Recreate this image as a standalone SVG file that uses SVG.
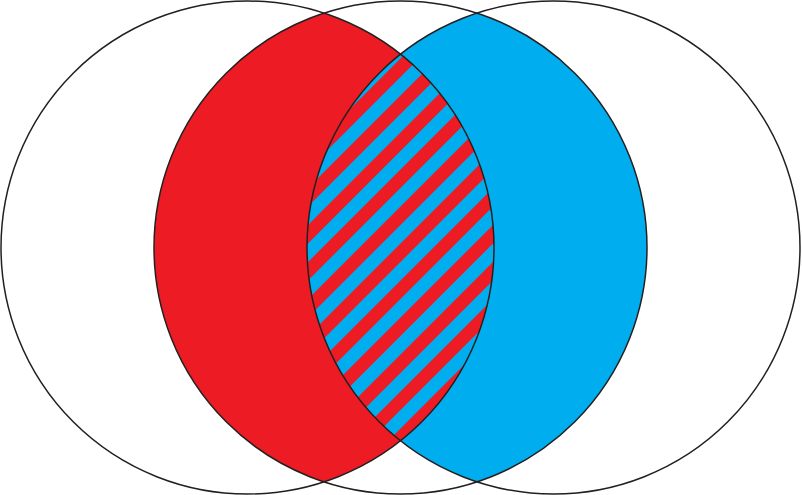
<svg xmlns="http://www.w3.org/2000/svg" width="802" height="495" viewBox="0 0 802 495">
  <style>
    .red { fill: #ED1C24; }
    .blue { fill: #00AEEF; }
    .outline { fill: none; stroke: #231F20; stroke-width: 1.5; }
    .stripe { fill: none; stroke: #ED1C24; stroke-width: 13.08; }
  </style>
  <defs>
    <clipPath id="lensClip">
      <path d="M400.5,54.2 A246.5,246.5 0 0,1 400.5,440.8 A246.5,246.5 0 0,1 400.5,54.2 Z"/>
    </clipPath>
  </defs>
  <rect width="802" height="495" fill="#FFFFFF"/>
  <g id="red-region">
    <path class="red" d="M324,13.2 A246.5,246.5 0 0,1 324,481.8 A246.5,246.5 0 0,1 324,13.2 Z"/>
  </g>
  <g id="blue-region">
    <path class="blue" d="M477,13.2 A246.5,246.5 0 0,1 477,481.8 A246.5,246.5 0 0,1 477,13.2 Z"/>
  </g>
  <g id="hatched-region">
    <path class="blue" d="M400.5,54.2 A246.5,246.5 0 0,1 400.5,440.8 A246.5,246.5 0 0,1 400.5,54.2 Z"/>
    <g clip-path="url(#lensClip)">
      <path class="stripe" d="M280,151.25 L540,-108.75 M280,188.25 L540,-71.75 M280,225.25 L540,-34.75 M280,262.25 L540,2.25 M280,299.25 L540,39.25 M280,336.25 L540,76.25 M280,373.25 L540,113.25 M280,410.25 L540,150.25 M280,447.25 L540,187.25 M280,484.25 L540,224.25 M280,521.25 L540,261.25 M280,558.25 L540,298.25 M280,595.25 L540,335.25"/>
    </g>
  </g>
  <g id="circles">
    <circle id="circle-left" class="outline" cx="247.5" cy="247.5" r="246.5"/>
    <circle id="circle-middle" class="outline" cx="400.5" cy="247.5" r="246.5"/>
    <circle id="circle-right" class="outline" cx="553.5" cy="247.5" r="246.5"/>
  </g>
</svg>
